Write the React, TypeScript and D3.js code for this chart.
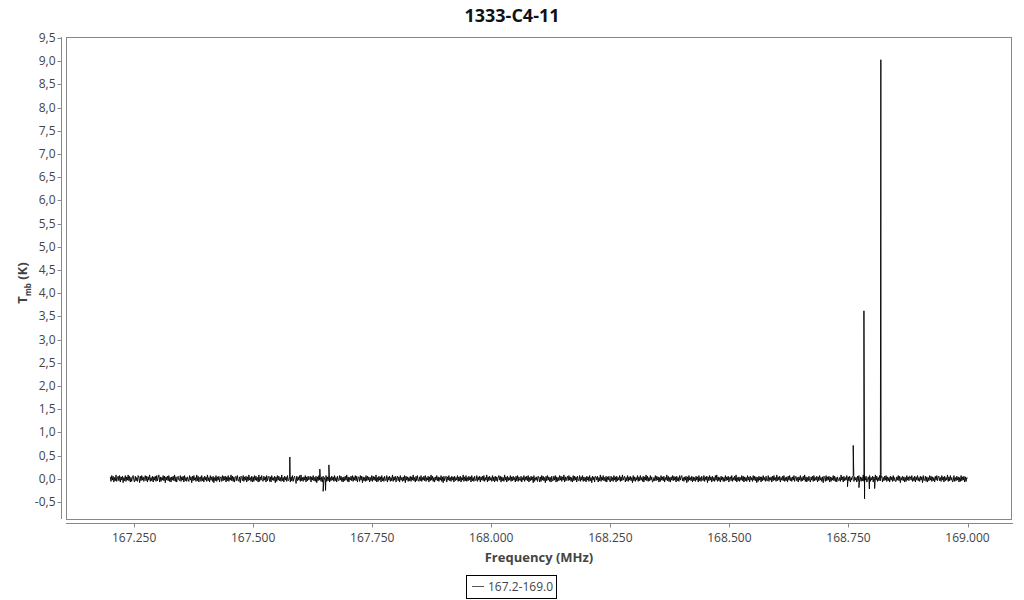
import React from "react";
import * as d3 from "d3";

const TITLE = "1333-C4-11";
const X_LABEL = "Frequency (MHz)";
const LEGEND_LABEL = "167.2-169.0";

// channel grid of the spectrum
const FREQ_START = 167.2;
const FREQ_STEP = 0.0015;
// unit of the baseline noise values below (K)
const NOISE_UNIT = 0.014;

// baseline noise, in units of NOISE_UNIT, one value per channel
const noiseSteps: number[] = [
  3,-4,5,-2,4,-5,2,-3,6,-4,1,4,-3,5,-5,3,-2,4,-6,2,
  -3,5,-4,3,-2,6,-3,4,-5,2,-4,3,5,-2,-5,4,-3,2,-4,5,
  2,-6,4,-3,5,-2,3,-4,1,5,-3,4,-5,3,-2,6,-4,2,-3,4,
  -5,3,-2,4,-4,5,-3,2,6,-5,3,-4,2,-2,5,-3,4,-6,3,-2,
  4,-3,5,-4,2,-5,3,-2,4,-3,6,-4,3,-5,2,4,-2,-3,5,-4,
  3,-2,4,-5,5,-3,2,-4,3,-1,-4,5,-2,3,-6,4,-3,5,-2,2,
  -4,6,-3,4,-5,2,3,-4,5,-3,2,-5,4,-2,3,-4,6,-3,2,-5,
  5,-2,3,-4,4,-6,2,-3,5,-4,3,-2,4,-5,2,3,-4,5,-3,4,
  -2,4,-5,3,-3,5,-4,2,-2,6,-3,4,-4,3,-5,2,4,-3,5,-2,
  -4,3,-6,4,2,-3,5,-4,3,-2,4,-5,3,-3,6,-2,2,-4,4,-5,
  3,-4,5,-2,4,-3,2,-5,6,-4,3,-2,5,-3,-4,4,-2,3,-5,5,
  -3,2,4,-4,3,-5,5,-2,2,-3,4,-6,3,-4,5,-2,4,-3,2,-4,
  6,-3,2,-5,4,-2,3,-4,5,-3,-2,4,-5,3,-3,5,-4,2,4,-2,
  -5,4,-3,3,-2,5,-4,6,-3,2,-4,3,-2,5,-5,3,-3,4,-2,2,
  4,-5,3,-2,5,-3,2,-4,4,-6,3,-3,5,-2,2,-4,3,-5,4,-3,
  2,-2,5,-4,3,-3,6,-5,2,-3,4,-2,3,-4,5,-3,2,-5,4,-2,
  -3,5,-2,4,-4,2,-5,3,-3,4,-2,6,-4,3,-5,2,-2,4,-3,5,
  -4,3,-2,5,-3,4,-5,2,3,-4,5,-2,4,-6,3,-3,2,-4,5,-3,
  4,-2,3,-5,2,-3,5,-4,4,-2,3,-3,6,-5,2,-4,4,-2,3,-5,
  5,-3,2,-4,4,-2,-3,5,-5,3,-2,4,-4,2,-3,6,-4,3,-2,4,
  -5,2,4,-3,3,-5,5,-2,2,-4,3,-3,5,-6,4,-2,3,-4,2,-3,
  4,-4,3,-2,6,-3,2,-5,4,-3,5,-2,-4,3,-3,5,-4,2,-2,4,
  -3,5,-4,2,-2,4,-5,3,-3,6,-2,4,-4,2,-5,3,-2,5,-3,3,
  -4,2,-2,5,-4,3,-6,4,-3,2,4,-5,3,-2,5,-3,2,-4,4,-2,
  3,-5,4,-3,2,-2,5,-4,3,-3,4,-5,2,-2,6,-4,3,-3,5,-4,
  2,-3,4,-2,3,-5,5,-3,2,-4,4,-2,-3,5,-4,3,-2,4,-5,3,
  -2,4,-3,5,-4,2,-2,6,-5,3,-3,4,-2,2,-4,5,-3,3,-5,4,
  -3,3,-4,2,5,-2,4,-5,3,-3,2,-4,6,-2,3,-5,4,-3,2,-2,
  5,-4,3,-3,4,-2,2,-5,4,-3,5,-4,3,-2,-3,4,-5,2,-2,5,
  -4,3,-2,4,-3,5,-5,2,-3,4,-2,3,-6,5,-4,2,-2,3,-4,4,
  2,-5,3,-4,5,-2,4,-3,2,-6,4,-3,5,-2,3,-4,2,-5,4,-3,
  -3,4,-2,5,-5,3,-4,2,-3,5,-2,4,-4,3,-2,6,-5,3,-3,2,
  4,-3,5,-2,3,-4,2,-5,5,-3,4,-2,3,-5,4,-2,-3,5,-4,3,
  -2,5,-4,3,-3,2,-5,4,-2,3,-4,5,-3,2,-6,4,-2,3,-5,4,
  3,-2,4,-5,2,-3,6,-4,3,-2,5,-3,2,-4,4,-5,3,-2,4,-3,
  -5,4,-3,2,-4,5,-2,3,-5,4,-3,2,-2,5,-4,3,-3,6,-2,2,
  4,-5,2,-3,5,-4,3,-2,4,-3,2,-6,5,-3,3,-4,2,-2,5,-4,
  3,-3,5,-2,2,-4,4,-5,3,-2,6,-3,4,-4,2,-3,5,-2,3,-5,
  -4,2,-3,5,-3,4,-2,3,-5,2,-4,5,-2,3,-3,4,-5,2,-2,6,
  -3,4,-4,2,-5,3,-2,5,-3,4,-2,3,-5,4,-3,2,-4,5,-2,3,
  5,-3,2,-4,3,-2,4,-6,3,-4,5,-2,2,-3,4,-5,3,-3,2,-4,
  4,-2,3,-5,5,-3,2,-4,4,-2,-3,5,-4,3,-2,4,-6,3,-3,5,
  -2,3,-5,4,-3,2,-4,5,-2,6,-4,3,-3,2,-5,4,-2,3,-4,2,
  -4,5,-3,3,-2,4,-5,2,3,-3,5,-4,2,-2,4,-3,6,-5,2,-3,
  3,-4,2,-2,5,-3,4,-5,3,-3,2,-4,5,-2,3,-5,4,-2,2,-4,
  5,-2,4,-3,3,-6,2,-4,4,-2,3,-5,3,-3,5,-2,2,-4,4,-3,
  -3,5,-4,2,-2,3,-5,4,-3,5,-2,2,-4,6,-3,3,-2,4,-5,2,
  -2,4,-3,5,-4,2,-3,3,-5,4,-2,5,-3,2,-4,3,-2,5,-4,3,
  4,-3,2,-5,3,-2,5,-4,2,-3,4,-2,6,-4,3,-5,2,-3,4,-2,
  -5,3,-2,4,-4,5,-3,2,-2,4,-5,3,-3,5,-2,2,-4,3,-6,4,
  2,-4,5,-3,3,-2,4,-5,3,-4,2,-2,5,-3,4,-4,2,-5,3,-2,
  -3,2,-4,6,-2,3,-5,4,-3,2,-2,5,-4,3,-3,4,-5,2,-2,4,
  5,-4,3,-2,2,-5,4,-3,5,-2,3,-4,2,-3,6,-4,3,-2,4,-5,
  -2,3,-3,5,-4,2,-2,4,-5,3,-3,6,-2,4,-4,2,-3,5,-3,2,
  4,-5,2,-3,4,-2,5,-4,3,-3,2,-5,4,-2,3,-4,5,-3,2,-4,
  -4,3,-2,5,-3,4,-6,2,-2,4,-3,3,-5,2,-4,5,-2,3,-3,4,
  3,-2,5,-4,2,-3,4,-5,3,-2,5,-3,2,-4,4,-2,3,-6,5,-3,
  -2,4,-4,3,-5,2,-3,5,-2,4,-4,3,-3,2,-5,4,-2,5,-3,3,
  4,-3,2,-4,5,-2,3,-5,4,-3,2,-2,6,-4,3,-3,5,-2,2,-5,
  -3,5,-4,2,-3,4,-2,3,-5,2,-4,5,-3,3,-2,4,-5,3,-4,2,
  1,
];

// spectral lines / spikes
const spikeFreqs: number[] = [
  167.577, 167.590, 167.640, 167.647, 167.652, 167.659,
  168.748, 168.760, 168.772, 168.7825, 168.7838, 168.794, 168.805, 168.818,
];
const spikeValues: number[] = [
  0.47, -0.1, 0.21, -0.27, -0.25, 0.3,
  -0.17, 0.72, -0.19, 3.62, -0.43, -0.22, -0.21, 9.03,
];

const yTicks: number[] = [-0.5,0,0.5,1,1.5,2,2.5,3,3.5,4,4.5,5,5.5,6,6.5,7,7.5,8,8.5,9,9.5];
const xTicks: number[] = [167.25, 167.5, 167.75, 168.0, 168.25, 168.5, 168.75, 169.0];

const X_DOMAIN: [number, number] = [167.107, 169.0934];
const Y_DOMAIN: [number, number] = [-0.866, 9.52];

const FONT = "'Open Sans', 'Noto Sans', sans-serif";

export default function App() {
  const W = 1024, H = 600;
  const left = 66, right = 1012, top = 37, bottom = 519;
  const x = d3.scaleLinear().domain(X_DOMAIN).range([left, right]);
  const y = d3.scaleLinear().domain(Y_DOMAIN).range([bottom, top]);

  const pts: [number, number][] = noiseSteps.map((v, i) => [FREQ_START + i * FREQ_STEP, v * NOISE_UNIT]);
  spikeFreqs.forEach((f, i) => pts.push([f, spikeValues[i]]));
  pts.sort((a, b) => a[0] - b[0]);

  const line = d3.line<[number, number]>().x((d) => x(d[0])).y((d) => y(d[1]));
  const yAxisX = 61.5;
  const xAxisY = 523.5;
  const fmtY = (v: number) => d3.format(".1f")(v).replace(".", ",").replace("−", "-");
  const fmtX = d3.format(".3f");

  return (
    <svg width={W} height={H} style={{ position: "absolute", left: 0, top: 0, background: "#fff" }} fontFamily={FONT}>
      <text x={512} y={22} textAnchor="middle" fontSize={18} fontWeight="bold" fill="#111">{TITLE}</text>

      {/* plot frame */}
      <rect x={left + 0.5} y={top + 0.5} width={right - left - 1} height={bottom - top} fill="none" stroke="#888" strokeWidth={1} />

      {/* y axis */}
      <line x1={yAxisX} x2={yAxisX} y1={top} y2={bottom} stroke="#888" strokeWidth={1} />
      {yTicks.map((t) => (
        <g key={t}>
          <line x1={yAxisX - 4} x2={yAxisX} y1={Math.round(y(t)) + 0.5} y2={Math.round(y(t)) + 0.5} stroke="#888" />
          <text x={yAxisX - 6} y={y(t) + 4} textAnchor="end" fontSize={12} fill="#444">{fmtY(t)}</text>
        </g>
      ))}

      {/* x axis */}
      <line x1={left} x2={right + 1} y1={xAxisY} y2={xAxisY} stroke="#888" strokeWidth={1} />
      {xTicks.map((t) => (
        <g key={t}>
          <line x1={Math.round(x(t)) + 0.5} x2={Math.round(x(t)) + 0.5} y1={xAxisY} y2={xAxisY + 4} stroke="#888" />
          <text x={x(t)} y={xAxisY + 18} textAnchor="middle" fontSize={12} fill="#444">{fmtX(t)}</text>
        </g>
      ))}

      <text x={539} y={562} textAnchor="middle" fontSize={13} fontWeight="bold" fill="#444">{X_LABEL}</text>
      <text transform="translate(27,283) rotate(-90)" textAnchor="middle" fontSize={13} fontWeight="bold" fill="#444">
        T<tspan fontSize={8} dy={4}>mb</tspan><tspan dy={-4}> (K)</tspan>
      </text>

      {/* spectrum */}
      <path d={line(pts) || ""} fill="none" stroke="#000" strokeWidth={0.9} />

      {/* legend */}
      <rect x={466.5} y={575.5} width={90} height={23} fill="#fff" stroke="#000" strokeWidth={1} />
      <line x1={472} x2={484} y1={586.5} y2={586.5} stroke="#555" strokeWidth={1} />
      <text x={488} y={591} fontSize={12} fill="#444">{LEGEND_LABEL}</text>
    </svg>
  );
}
